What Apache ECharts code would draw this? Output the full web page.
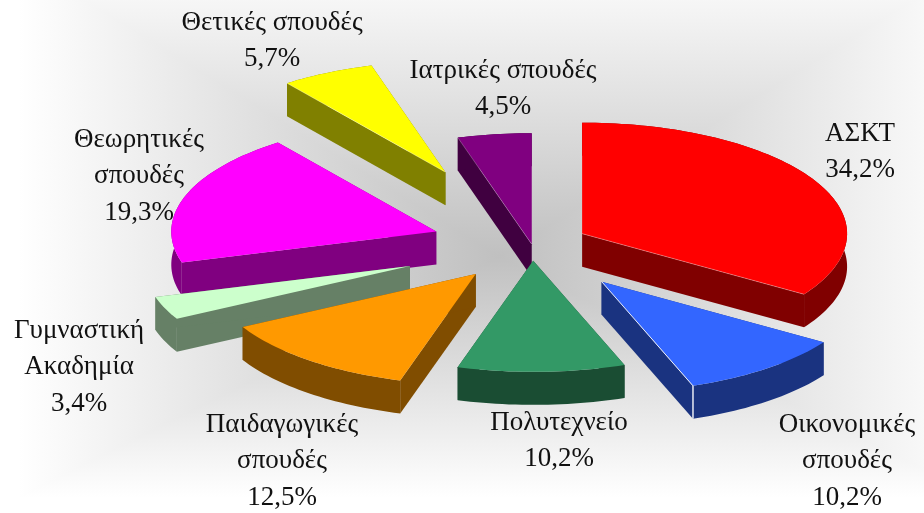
<!DOCTYPE html>
<html><head><meta charset="utf-8">
<style>
html,body{margin:0;padding:0;width:924px;height:513px;overflow:hidden;background:#fff}
#bg{position:absolute;left:0;top:0;width:924px;height:513px;
background-image:linear-gradient(to right,#fff 2%,#c0c0c0 54%,#fff 106%),linear-gradient(to bottom,#fff -8%,#c0c0c0 50%,#fff 97%);
background-blend-mode:lighten}
#c{position:absolute;left:0;top:0;width:924px;height:513px}
</style>
<script src="https://cdn.jsdelivr.net/npm/echarts@6/dist/echarts.min.js"></script>
</head><body><div id="bg"></div><div id="c"></div>
<script>
const categories = ['ΑΣΚΤ','Οικονομικές\nσπουδές','Πολυτεχνείο','Παιδαγωγικές\nσπουδές','Γυμναστική\nΑκαδημία','Θεωρητικές\nσπουδές','Θετικές σπουδές','Ιατρικές σπουδές'];
const values = [34.2,10.2,10.2,12.5,3.4,19.3,5.7,4.5];

// styling and layout, one entry per slice
const topColors = ['#ff0000','#3366ff','#339966','#ff9900','#ccffcc','#ff00ff','#ffff00','#800080'];
const wallColors = ['#800000','#1a3380','#1a4d33','#804d00','#668066','#800080','#808000','#400040'];
const explosion = [0.215,0.422,0.143,0.337,0.498,0.381,0.733,0.0075];
const labelCenter = [[860,152],[847,461],[559,441],[282,461],[79,367],[139,176],[272,41],[503,89]];
const drawOrder = [7,6,0,5,4,3,1,2];
const seamAlpha = [0.3,0.9,0,0,0,0,0.35,0.25];
const CX=532, CY=245, RX=265, RY=111, DEPTH=33, FONT=27, LINE=36.5;

const total = values.reduce((a,b)=>a+b,0);
const starts = values.reduce((acc,v,i)=>{acc.push(i?acc[i-1]+values[i-1]:0);return acc;},[]);
const pt=(o,a)=>[o[0]+RX*Math.sin(a),o[1]-RY*Math.cos(a)];
const down=p=>[p[0],p[1]+DEPTH];

function renderItem(params, api){
  const i = drawOrder[params.dataIndex];
  const v = api.value(0);
  const a0 = starts[i]/total*2*Math.PI, a1 = a0+v/total*2*Math.PI, m=(a0+a1)/2;
  const apex = [CX+explosion[i]*RX*Math.sin(m), CY-explosion[i]*RY*Math.cos(m)];
  const n = Math.max(6,Math.ceil((a1-a0)*40));
  const rim=[]; for(let k=0;k<=n;k++) rim.push(pt(apex,a0+(a1-a0)*k/n));
  const outline=[apex,...rim];
  const wall=pts=>({type:'polygon',shape:{points:pts},style:{fill:wallColors[i]}});
  const children=[
    wall([apex,rim[0],down(rim[0]),down(apex)]),
    wall([apex,rim[n],down(rim[n]),down(apex)]),
    wall([...rim,...rim.slice().reverse().map(down)]),
    {type:'polygon',shape:{points:outline},style:{fill:topColors[i]}}
  ];
  if(seamAlpha[i]>0){
    const front = rim[i===0||i===1 ? n : 0];
    const c='rgba(255,255,255,'+seamAlpha[i]+')';
    children.push({type:'line',shape:{x1:apex[0],y1:apex[1],x2:front[0],y2:front[1]},style:{stroke:c,lineWidth:1}});
    if(i===1) children.push({type:'line',shape:{x1:front[0],y1:front[1],x2:front[0],y2:front[1]+DEPTH},style:{stroke:c,lineWidth:1.5}});
  }
  children.push({type:'text',x:labelCenter[i][0],y:labelCenter[i][1],z2:10,style:{
    text:categories[i]+'\n'+v.toFixed(1).replace('.',',')+'%',
    fill:'#111',font:FONT+'px "Liberation Serif"',lineHeight:LINE,align:'center',verticalAlign:'middle'}});
  return {type:'group',children};
}

const chart = echarts.init(document.getElementById('c'),null,{renderer:'canvas'});
chart.setOption({
  backgroundColor:'transparent',animation:false,
  series:[{type:'custom',coordinateSystem:'none',renderItem,silent:true,
    data:drawOrder.map(i=>[values[i]])}]
});
</script></body></html>
